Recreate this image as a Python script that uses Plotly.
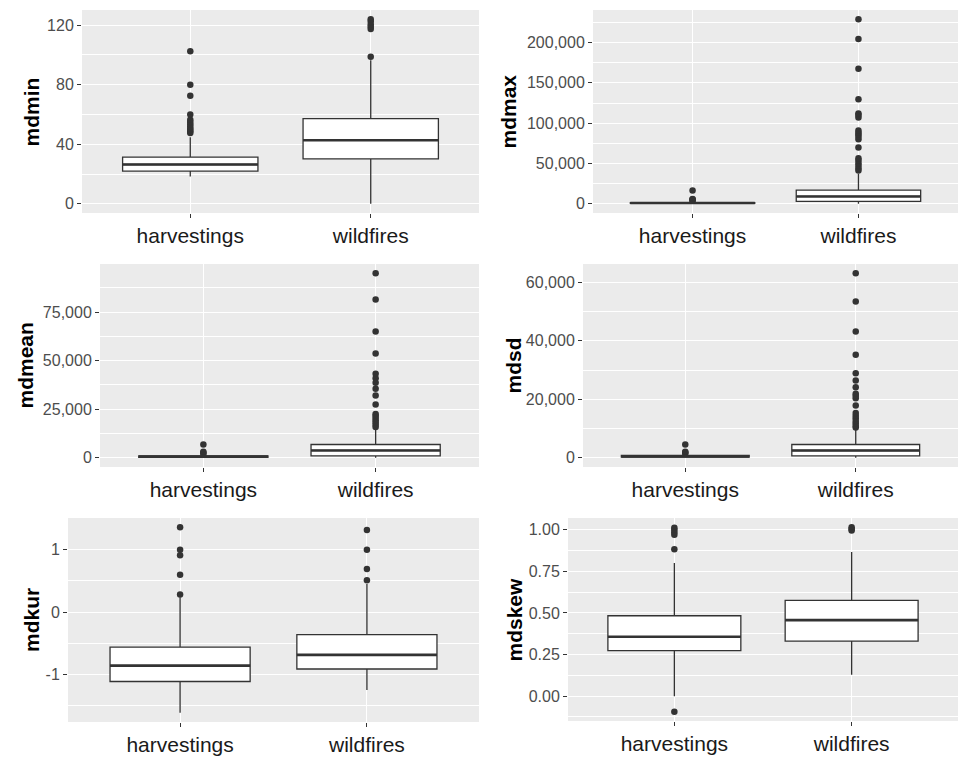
import plotly.graph_objects as go

# ---------------- data ----------------
categories = ["harvestings", "wildfires"]

# mdmin
mdmin_q1 = [21.9, 30.2]
mdmin_median = [26.4, 42.7]
mdmin_q3 = [31.3, 57.2]
mdmin_lower = [18.3, 0.0]
mdmin_upper = [44.7, 96.5]
mdmin_out_harv = [47.5, 48.5, 49.5, 50.5, 52, 53.5, 55, 56.5, 60, 72.5, 80, 102.5]
mdmin_out_wild = [98.8, 117.5, 119, 120.5, 122.5, 124]

# mdmax
mdmax_q1 = [400, 2890]
mdmax_median = [900, 9090]
mdmax_q3 = [1500, 16940]
mdmax_lower = [20, 100]
mdmax_upper = [3000, 37200]
mdmax_out_harv = [3800, 4600, 5300, 6000, 16500]
mdmax_out_wild = [41300, 44200, 47100, 50400, 53700, 56600, 69800, 80000, 83000,
                  86000, 88000, 91000, 107000, 110000, 112000, 129700, 167400,
                  204500, 228900]

# mdmean
mdmean_q1 = [300, 1030]
mdmean_median = [600, 3780]
mdmean_q3 = [1000, 6860]
mdmean_lower = [20, 50]
mdmean_upper = [1700, 14600]
mdmean_out_harv = [2000, 2600, 3100, 6900]
mdmean_out_wild = [15800, 17000, 18200, 19300, 20500, 21600, 22600, 27400, 32100,
                   35500, 38600, 41000, 43200, 53700, 65000, 81500, 95000]

# mdsd
mdsd_q1 = [200, 680]
mdsd_median = [500, 2500]
mdsd_q3 = [800, 4550]
mdsd_lower = [10, 30]
mdsd_upper = [1200, 9900]
mdsd_out_harv = [1500, 1800, 2100, 4550]
mdsd_out_wild = [10400, 11000, 11800, 12600, 13500, 14400, 15300, 17900, 20400,
                 21200, 21900, 24100, 26400, 28900, 35200, 43150, 53400, 63100]

# mdkur
mdkur_q1 = [-1.11, -0.91]
mdkur_median = [-0.855, -0.683]
mdkur_q3 = [-0.56, -0.36]
mdkur_lower = [-1.61, -1.247]
mdkur_upper = [0.24, 0.45]
mdkur_out_harv = [0.285, 0.60, 0.91, 1.0, 1.36]
mdkur_out_wild = [0.51, 0.69, 1.0, 1.317]

# mdskew
mdskew_q1 = [0.273, 0.331]
mdskew_median = [0.357, 0.457]
mdskew_q3 = [0.483, 0.575]
mdskew_lower = [0.0, 0.128]
mdskew_upper = [0.80, 0.866]
mdskew_out_harv = [-0.094, 0.882, 0.97, 0.985, 1.0, 1.012]
mdskew_out_wild = [0.995, 1.005, 1.015]

# tick labels / breaks
mdmin_ticks = [0, 40, 80, 120]
mdmin_ticktext = ["0", "40", "80", "120"]
mdmin_minor = [20, 60, 100]
mdmax_ticks = [0, 50000, 100000, 150000, 200000]
mdmax_ticktext = ["0", "50,000", "100,000", "150,000", "200,000"]
mdmax_minor = [25000, 75000, 125000, 175000, 225000]
mdmean_ticks = [0, 25000, 50000, 75000]
mdmean_ticktext = ["0", "25,000", "50,000", "75,000"]
mdmean_minor = [12500, 37500, 62500, 87500]
mdsd_ticks = [0, 20000, 40000, 60000]
mdsd_ticktext = ["0", "20,000", "40,000", "60,000"]
mdsd_minor = [10000, 30000, 50000]
mdkur_ticks = [-1, 0, 1]
mdkur_ticktext = ["-1", "0", "1"]
mdkur_minor = [-1.5, -0.5, 0.5, 1.5]
mdskew_ticks = [0, 0.25, 0.5, 0.75, 1.0]
mdskew_ticktext = ["0.00", "0.25", "0.50", "0.75", "1.00"]
mdskew_minor = [-0.125, 0.125, 0.375, 0.625, 0.875]

# ---------------- layout helpers ----------------
W, H = 958, 758
FONT = "Arial, Liberation Sans, sans-serif"

panels = [
    dict(title="mdmin", q1=mdmin_q1, med=mdmin_median, q3=mdmin_q3, lo=mdmin_lower, hi=mdmin_upper,
         oh=mdmin_out_harv, ow=mdmin_out_wild, tv=mdmin_ticks, tt=mdmin_ticktext, mv=mdmin_minor,
         box=(82, 479, 10, 213), tx=31),
    dict(title="mdmax", q1=mdmax_q1, med=mdmax_median, q3=mdmax_q3, lo=mdmax_lower, hi=mdmax_upper,
         oh=mdmax_out_harv, ow=mdmax_out_wild, tv=mdmax_ticks, tt=mdmax_ticktext, mv=mdmax_minor,
         box=(593, 958, 10, 213), tx=508),
    dict(title="mdmean", q1=mdmean_q1, med=mdmean_median, q3=mdmean_q3, lo=mdmean_lower, hi=mdmean_upper,
         oh=mdmean_out_harv, ow=mdmean_out_wild, tv=mdmean_ticks, tt=mdmean_ticktext, mv=mdmean_minor,
         box=(100, 479, 264, 467), tx=25),
    dict(title="mdsd", q1=mdsd_q1, med=mdsd_median, q3=mdsd_q3, lo=mdsd_lower, hi=mdsd_upper,
         oh=mdsd_out_harv, ow=mdsd_out_wild, tv=mdsd_ticks, tt=mdsd_ticktext, mv=mdsd_minor,
         box=(583, 958, 264, 467), tx=513),
    dict(title="mdkur", q1=mdkur_q1, med=mdkur_median, q3=mdkur_q3, lo=mdkur_lower, hi=mdkur_upper,
         oh=mdkur_out_harv, ow=mdkur_out_wild, tv=mdkur_ticks, tt=mdkur_ticktext, mv=mdkur_minor,
         box=(68, 479, 518, 722), tx=31),
    dict(title="mdskew", q1=mdskew_q1, med=mdskew_median, q3=mdskew_q3, lo=mdskew_lower, hi=mdskew_upper,
         oh=mdskew_out_harv, ow=mdskew_out_wild, tv=mdskew_ticks, tt=mdskew_ticktext, mv=mdskew_minor,
         box=(568, 958, 518, 721), tx=514),
]

fig = go.Figure()
layout = {}
annotations = []

for i, p in enumerate(panels, start=1):
    xa = "x" if i == 1 else f"x{i}"
    ya = "y" if i == 1 else f"y{i}"
    xkey = "xaxis" if i == 1 else f"xaxis{i}"
    ykey = "yaxis" if i == 1 else f"yaxis{i}"

    allvals = p["lo"] + p["hi"] + p["oh"] + p["ow"]
    vmin, vmax = min(allvals), max(allvals)
    span = vmax - vmin
    yr = [vmin - 0.05 * span, vmax + 0.05 * span]

    fig.add_trace(go.Box(
        x=categories, q1=p["q1"], median=p["med"], q3=p["q3"],
        lowerfence=p["lo"], upperfence=p["hi"],
        fillcolor="white", line=dict(color="#333333", width=1.3),
        width=0.75, whiskerwidth=0, boxpoints=False,
        xaxis=xa, yaxis=ya, showlegend=False, hoverinfo="skip"))
    # thicker median line (ggplot fatten)
    fig.add_trace(go.Box(
        x=categories, q1=p["med"], median=p["med"], q3=p["med"],
        lowerfence=p["med"], upperfence=p["med"],
        fillcolor="rgba(0,0,0,0)", line=dict(color="#333333", width=2.6),
        width=0.75, whiskerwidth=0, boxpoints=False,
        xaxis=xa, yaxis=ya, showlegend=False, hoverinfo="skip"))
    for cat, outs in ((categories[0], p["oh"]), (categories[1], p["ow"])):
        fig.add_trace(go.Scatter(
            x=[cat] * len(outs), y=outs, mode="markers",
            marker=dict(color="#333333", size=6.5, line=dict(width=0)),
            xaxis=xa, yaxis=ya, showlegend=False, hoverinfo="skip"))

    x0, x1, y0, y1 = p["box"]
    layout[xkey] = dict(
        domain=[x0 / W, x1 / W], anchor=ya, type="category",
        categoryorder="array", categoryarray=categories, range=[-0.6, 1.6],
        showgrid=True, gridcolor="white", gridwidth=1.1, zeroline=False, showline=False,
        ticks="outside", ticklen=4, tickwidth=1, tickcolor="#333333",
        tickfont=dict(family=FONT, size=21, color="#1a1a1a"), fixedrange=True)
    layout[ykey] = dict(
        domain=[1 - y1 / H, 1 - y0 / H], anchor=xa, range=yr,
        tickmode="array", tickvals=p["tv"], ticktext=p["tt"],
        showgrid=True, gridcolor="white", gridwidth=1.1, zeroline=False, showline=False,
        ticks="outside", ticklen=4, tickwidth=1, tickcolor="#333333",
        tickfont=dict(family=FONT, size=16, color="#4d4d4d"),
        minor=dict(tickmode="array", tickvals=p["mv"], showgrid=True,
                   gridcolor="white", gridwidth=0.55, ticks=""),
        fixedrange=True)
    annotations.append(dict(
        text=p["title"], textangle=-90, showarrow=False,
        xref="paper", yref="paper", x=p["tx"] / W, y=1 - (y0 + y1) / 2 / H,
        xanchor="center", yanchor="middle",
        font=dict(family=FONT, size=21, color="black", weight="bold")))

fig.update_layout(
    width=W, height=H, autosize=False,
    margin=dict(l=0, r=0, t=0, b=0),
    paper_bgcolor="white", plot_bgcolor="#EBEBEB",
    boxmode="overlay", showlegend=False,
    annotations=annotations, **layout)

fig.write_html("out.html")
